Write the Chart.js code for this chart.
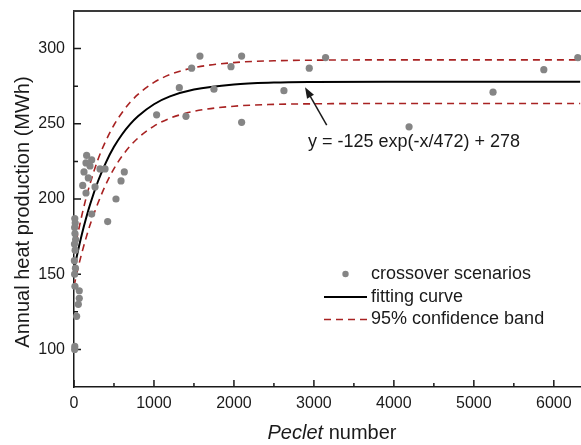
<!DOCTYPE html>
<html>
<head>
<meta charset="utf-8">
<script src="https://cdn.jsdelivr.net/npm/chart.js@4.4.1/dist/chart.umd.min.js"></script>
<style>
  html, body { margin: 0; padding: 0; background: #fff; }
  canvas { display: block; }
</style>
</head>
<body>
<canvas id="myChart" width="581" height="445"></canvas>
<script>
// crossover scenarios (Peclet number, MWh)
const scenPe = [6300, 5875, 5240, 4190, 1575, 2096, 3146, 1471, 1963, 2942,
    1317, 1750, 2625, 1400, 2096, 1033,
    158, 221, 150, 200, 125, 325, 388, 179, 109, 629, 588, 263, 150, 525, 421, 221,
    10, 15, 8, 12, 20, 6, 14, 5, 18, 8,
    66, 66, 54, 33, 12, 10, 8];
const scenHeat = [294, 286, 271, 248, 295, 295, 294, 287, 288, 287,
    274, 273, 272, 255, 251, 256,
    229, 226, 224, 222, 218, 220, 220, 214, 209, 218, 212, 208, 204, 200, 185, 190,
    187, 184, 181, 177, 173, 170, 166, 159, 154, 150,
    139, 134, 130, 122, 142, 102, 100];

// fitting curve and confidence band
const curvePe = [0, 50, 100, 150, 200, 300, 400, 500, 600, 700, 800, 1000, 1200, 1500, 2000, 2500, 3000, 4000, 5000, 6330];
const fitHeat = [153, 165.6, 176.9, 187, 196.2, 211.8, 224.4, 234.7, 242.9, 249.6, 255, 263, 268.2, 272.8, 276.2, 277.4, 277.8, 278, 278, 278];
const upperHeat = [164, 177.5, 189.5, 200.5, 210, 226.3, 238.9, 249.2, 257.4, 264.1, 269.5, 277.5, 282.7, 287.3, 290.7, 291.9, 292.3, 292.5, 292.5, 292.5];
const lowerHeat = [142, 154, 164.5, 174, 182.7, 197.3, 209.9, 220.2, 228.4, 235.1, 240.5, 248.5, 253.7, 258.3, 261.7, 262.9, 263.3, 263.5, 263.5, 263.5];

const xTicks = [0, 1000, 2000, 3000, 4000, 5000, 6000];
const xMinor = [500, 1500, 2500, 3500, 4500, 5500];
const yTicks = [100, 150, 200, 250, 300];
const yMinor = [125, 175, 225, 275];

const font = '"Liberation Sans", Arial, sans-serif';
const ink = '#1a1a1a';
const bandRed = '#a82222';

const pts = (xs, ys) => xs.map((v, i) => ({ x: v, y: ys[i] }));

const frame = {
    id: 'frame',
    beforeDatasetsDraw(chart) {
        const { ctx, chartArea: a, scales: { x, y } } = chart;
        ctx.save();
        ctx.strokeStyle = ink;
        ctx.lineWidth = 1.5;
        ctx.beginPath();
        xTicks.forEach(v => { const px = x.getPixelForValue(v); ctx.moveTo(px, a.bottom); ctx.lineTo(px, a.bottom - 7); });
        xMinor.forEach(v => { const px = x.getPixelForValue(v); ctx.moveTo(px, a.bottom); ctx.lineTo(px, a.bottom - 4); });
        yTicks.forEach(v => { const py = y.getPixelForValue(v); ctx.moveTo(a.left, py); ctx.lineTo(a.left + 7, py); });
        yMinor.forEach(v => { const py = y.getPixelForValue(v); ctx.moveTo(a.left, py); ctx.lineTo(a.left + 4, py); });
        ctx.stroke();
        ctx.restore();
    },
    afterDraw(chart) {
        const { ctx, chartArea: a, scales: { x, y } } = chart;
        ctx.save();
        // top frame line
        ctx.strokeStyle = '#3a3a3a';
        ctx.lineWidth = 2;
        ctx.beginPath();
        ctx.moveTo(a.left - 0.75, a.top);
        ctx.lineTo(chart.width, a.top);
        ctx.stroke();

        ctx.fillStyle = ink;
        ctx.textBaseline = 'middle';

        // axis titles
        ctx.font = 'italic 20px ' + font;
        const w1 = ctx.measureText('Peclet').width;
        ctx.font = '20px ' + font;
        const w2 = ctx.measureText(' number').width;
        let tx = 332 - (w1 + w2) / 2;
        ctx.textAlign = 'left';
        ctx.font = 'italic 20px ' + font;
        ctx.fillText('Peclet', tx, 433);
        ctx.font = '20px ' + font;
        ctx.fillText(' number', tx + w1, 433);

        ctx.save();
        ctx.translate(23, 212);
        ctx.rotate(-Math.PI / 2);
        ctx.textAlign = 'center';
        ctx.fillText('Annual heat production (MWh)', 0, 0);
        ctx.restore();

        // annotation with arrow
        const tipX = x.getPixelForValue(2889), tipY = y.getPixelForValue(274.3);
        const tailX = x.getPixelForValue(3160), tailY = y.getPixelForValue(249.2);
        const ang = Math.atan2(tipY - tailY, tipX - tailX);
        ctx.strokeStyle = ink;
        ctx.lineWidth = 1.5;
        ctx.beginPath();
        ctx.moveTo(tailX, tailY);
        ctx.lineTo(tipX - 8 * Math.cos(ang), tipY - 8 * Math.sin(ang));
        ctx.stroke();
        ctx.beginPath();
        ctx.moveTo(tipX, tipY);
        ctx.lineTo(tipX - 11 * Math.cos(ang) + 4 * Math.sin(ang), tipY - 11 * Math.sin(ang) - 4 * Math.cos(ang));
        ctx.lineTo(tipX - 11 * Math.cos(ang) - 4 * Math.sin(ang), tipY - 11 * Math.sin(ang) + 4 * Math.cos(ang));
        ctx.closePath();
        ctx.fill();
        ctx.font = '18px ' + font;
        ctx.textAlign = 'left';
        ctx.fillText('y = -125 exp(-x/472) + 278', x.getPixelForValue(2926), y.getPixelForValue(238.1));

        // legend
        const ds = chart.data.datasets;
        const rows = [274, 297, 319.5];
        ctx.fillStyle = ds[0].backgroundColor;
        ctx.beginPath();
        ctx.arc(345.5, rows[0], 3.2, 0, Math.PI * 2);
        ctx.fill();
        ctx.strokeStyle = ds[1].borderColor;
        ctx.lineWidth = ds[1].borderWidth;
        ctx.beginPath();
        ctx.moveTo(324, rows[1]); ctx.lineTo(367, rows[1]);
        ctx.stroke();
        ctx.strokeStyle = ds[2].borderColor;
        ctx.lineWidth = ds[2].borderWidth;
        ctx.setLineDash(ds[2].borderDash);
        ctx.beginPath();
        ctx.moveTo(324, rows[2]); ctx.lineTo(367, rows[2]);
        ctx.stroke();
        ctx.setLineDash([]);
        ctx.fillStyle = ink;
        ctx.fillText(ds[0].label, 371, rows[0]);
        ctx.fillText(ds[1].label, 371, rows[1]);
        ctx.fillText(ds[2].label, 371, rows[2]);
        ctx.restore();
    }
};

const ctx = document.getElementById('myChart').getContext('2d');
const myChart = new Chart(ctx, {
    type: 'scatter',
    data: {
        datasets: [{
            label: 'crossover scenarios',
            data: pts(scenPe, scenHeat),
            backgroundColor: '#858585',
            borderWidth: 0,
            pointRadius: 3.6,
            clip: false,
            order: 0
        }, {
            label: 'fitting curve',
            type: 'line',
            data: pts(curvePe, fitHeat),
            borderColor: '#000',
            borderWidth: 2,
            pointRadius: 0,
            cubicInterpolationMode: 'monotone',
            order: 1
        }, {
            label: '95% confidence band',
            type: 'line',
            data: pts(curvePe, upperHeat),
            borderColor: bandRed,
            borderWidth: 1.6,
            borderDash: [7, 5],
            pointRadius: 0,
            cubicInterpolationMode: 'monotone',
            order: 2
        }, {
            label: 'lower band',
            type: 'line',
            data: pts(curvePe, lowerHeat),
            borderColor: bandRed,
            borderWidth: 1.6,
            borderDash: [7, 5],
            pointRadius: 0,
            cubicInterpolationMode: 'monotone',
            order: 3
        }]
    },
    options: {
        responsive: false,
        animation: false,
        events: [],
        layout: { autoPadding: false, padding: { top: 11, right: 0, bottom: 0, left: 0 } },
        plugins: { legend: { display: false }, tooltip: { enabled: false } },
        scales: {
            x: {
                type: 'linear',
                min: 0,
                max: 6340,
                afterBuildTicks: s => { s.ticks = xTicks.map(v => ({ value: v })); },
                afterFit: s => { s.height = 58; s.paddingLeft = 0; s.paddingRight = 0; },
                grid: { display: false, drawTicks: false },
                border: { color: ink, width: 1.5 },
                ticks: { padding: 7, color: ink, font: { family: font, size: 16 }, maxRotation: 0, callback: v => String(v) }
            },
            y: {
                min: 75,
                max: 325,
                afterBuildTicks: s => { s.ticks = yTicks.map(v => ({ value: v })); },
                afterFit: s => { s.width = 74; s.paddingTop = 0; s.paddingBottom = 0; },
                grid: { display: false, drawTicks: false },
                border: { color: ink, width: 1.5 },
                ticks: { padding: 9, color: ink, font: { family: font, size: 16 }, callback: v => String(v) }
            }
        }
    },
    plugins: [frame]
});
</script>
</body>
</html>
